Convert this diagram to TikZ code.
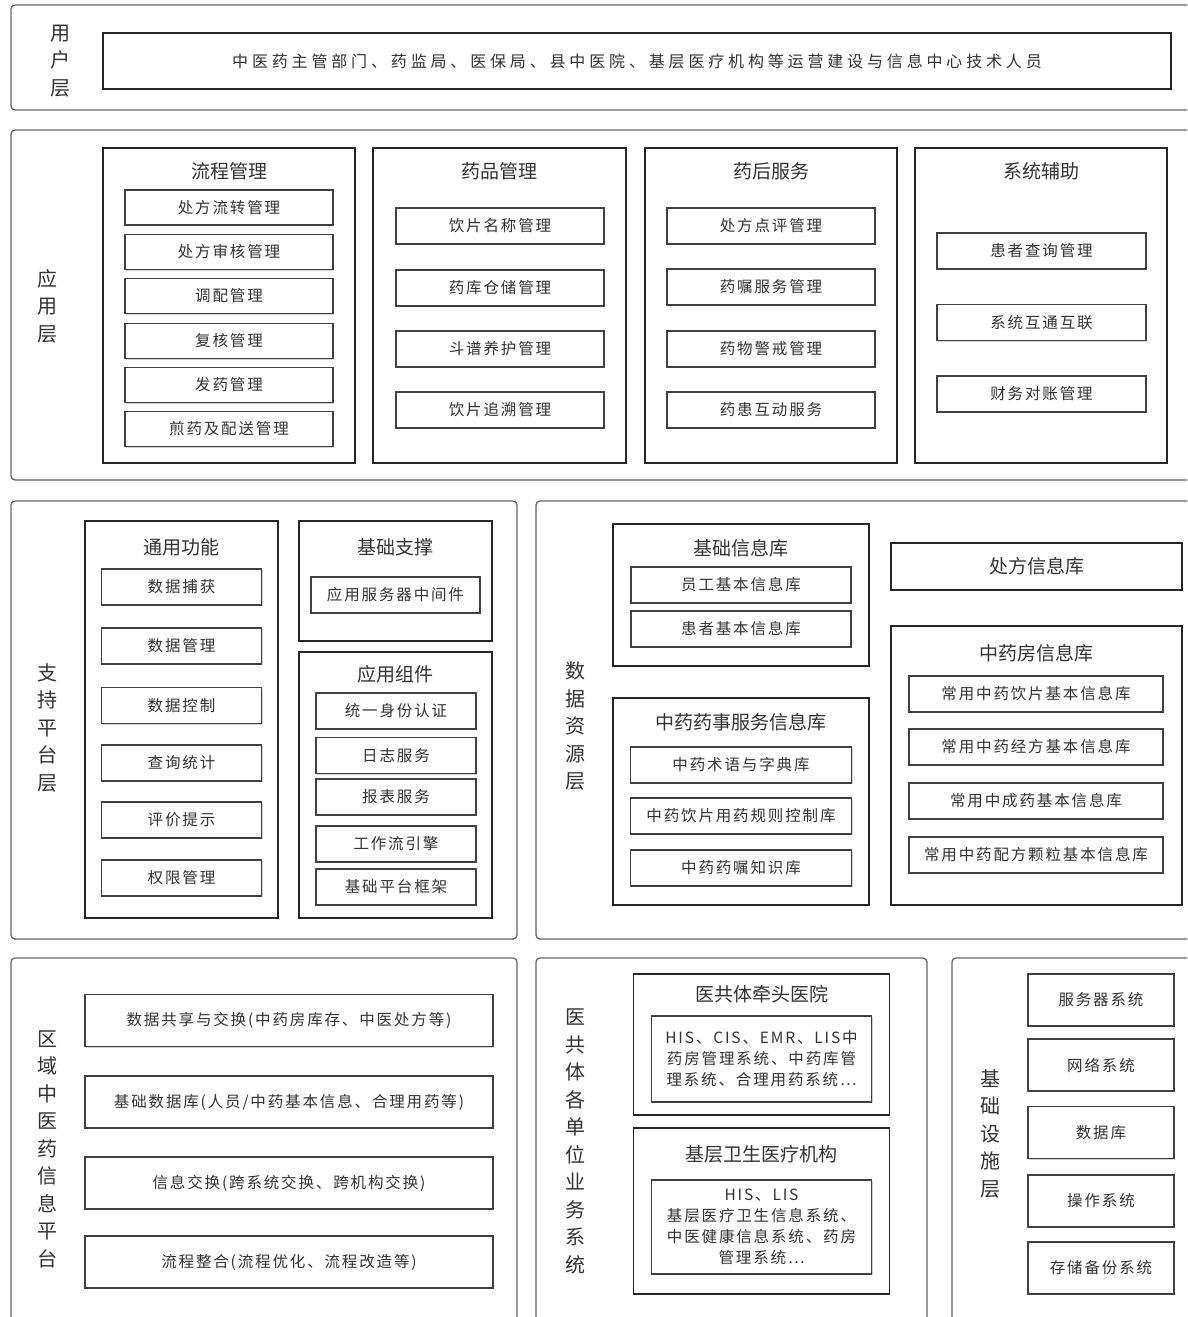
\documentclass[tikz,border=0pt]{standalone}
\usepackage{fontspec}
\setmainfont{Noto Sans CJK SC}
\newfontfamily\cjkspaced{Noto Sans CJK SC}[LetterSpace=12]
\newfontfamily\cjkwide{Noto Sans CJK SC}[LetterSpace=24]
\usetikzlibrary{shadows}

\begin{document}
\begin{tikzpicture}[x=1pt, y=-1pt,
    boxsize/.style 2 args={minimum width=#1, minimum height=#2},
    layerbox/.style={draw=black!60, line width=1.3pt, rounded corners=4pt, inner sep=0pt},
    groupbox/.style={draw=black!85, line width=1.8pt, inner sep=0pt, text=black!80, font=\fontsize{19}{23}\selectfont},
    itembox/.style={draw=black!75, line width=1.3pt, fill=white, inner sep=0pt, text=black!80,
      font=\cjkspaced\fontsize{15.5}{21}\selectfont,
      drop shadow={shadow xshift=1pt, shadow yshift=-1pt, fill=black!35}},
    wideitem/.style={itembox, line width=1.7pt},
    grouptitle/.style={text=black!80, font=\fontsize{19}{23}\selectfont},
    layerlabel/.style={align=center, inner sep=0pt, text=black!80, font=\fontsize{20}{27.5}\selectfont}]

  \fill[white] (0,0) rectangle (1187,1317);
  \clip (0,0) rectangle (1187,1317);

  \node[layerbox, boxsize={1184}{105}] at (603,57.5) (user) {};
  \node[layerlabel] at (60,61) (userlbl) {用\\户\\层};
  \node[groupbox, boxsize={1068}{56}, font=\cjkwide\fontsize{16}{20}\selectfont] at (637,61) (users)
    {中医药主管部门、药监局、医保局、县中医院、基层医疗机构等运营建设与信息中心技术人员};

  \node[layerbox, boxsize={1184}{350}] at (603,305) (app) {};
  \node[layerlabel] at (47,306) (applbl) {应\\用\\层};

  \node[groupbox, boxsize={252}{315}] at (229,305.5) (flow) {};
  \node[grouptitle] at (229,171) (flowttl) {流程管理};
  \node[itembox, boxsize={208}{35}] at (229,207.5) (flow1) {处方流转管理};
  \node[itembox, boxsize={208}{35}] at (229,252) (flow2) {处方审核管理};
  \node[itembox, boxsize={208}{35}] at (229,296) (flow3) {调配管理};
  \node[itembox, boxsize={208}{35}] at (229,341) (flow4) {复核管理};
  \node[itembox, boxsize={208}{35}] at (229,385) (flow5) {发药管理};
  \node[itembox, boxsize={208}{35}] at (229,429) (flow6) {煎药及配送管理};

  \node[groupbox, boxsize={253}{315}] at (499.5,305.5) (drug) {};
  \node[grouptitle] at (499.5,171) (drugttl) {药品管理};
  \node[itembox, boxsize={208}{36}] at (500,226) (drug1) {饮片名称管理};
  \node[itembox, boxsize={208}{36}] at (500,288) (drug2) {药库仓储管理};
  \node[itembox, boxsize={208}{36}] at (500,349) (drug3) {斗谱养护管理};
  \node[itembox, boxsize={208}{36}] at (500,410) (drug4) {饮片追溯管理};

  \node[groupbox, boxsize={252}{315}] at (771,305.5) (after) {};
  \node[grouptitle] at (771,171) (afterttl) {药后服务};
  \node[itembox, boxsize={208}{36}] at (771,226) (after1) {处方点评管理};
  \node[itembox, boxsize={208}{36}] at (771,287) (after2) {药嘱服务管理};
  \node[itembox, boxsize={208}{36}] at (771,349) (after3) {药物警戒管理};
  \node[itembox, boxsize={208}{36}] at (771,410) (after4) {药患互动服务};

  \node[groupbox, boxsize={252}{315}] at (1041,305.5) (aux) {};
  \node[grouptitle] at (1041,171) (auxttl) {系统辅助};
  \node[itembox, boxsize={209}{36}] at (1041.5,251) (aux1) {患者查询管理};
  \node[itembox, boxsize={209}{36}] at (1041.5,322.5) (aux2) {系统互通互联};
  \node[itembox, boxsize={209}{36}] at (1041.5,394) (aux3) {财务对账管理};

  \node[layerbox, boxsize={506}{438}] at (264,720) (support) {};
  \node[layerlabel] at (47,727.5) (supportlbl) {支\\持\\平\\台\\层};

  \node[groupbox, boxsize={193}{397}] at (181.5,719.5) (common) {};
  \node[grouptitle] at (181.5,547) (commonttl) {通用功能};
  \node[itembox, boxsize={160}{36}] at (181.5,587) (common1) {数据捕获};
  \node[itembox, boxsize={160}{36}] at (181.5,646) (common2) {数据管理};
  \node[itembox, boxsize={160}{36}] at (181.5,705.5) (common3) {数据控制};
  \node[itembox, boxsize={160}{36}] at (181.5,763) (common4) {查询统计};
  \node[itembox, boxsize={160}{36}] at (181.5,820) (common5) {评价提示};
  \node[itembox, boxsize={160}{36}] at (181.5,878) (common6) {权限管理};

  \node[groupbox, boxsize={193}{120}] at (395.5,581) (base) {};
  \node[grouptitle] at (395.5,547) (basettl) {基础支撑};
  \node[itembox, boxsize={169}{36}] at (395.5,595) (base1) {应用服务器中间件};

  \node[groupbox, boxsize={193}{266}] at (395.5,785) (comp) {};
  \node[grouptitle] at (395.5,674) (compttl) {应用组件};
  \node[itembox, boxsize={160}{36}] at (396,711) (comp1) {统一身份认证};
  \node[itembox, boxsize={160}{36}] at (396,755.5) (comp2) {日志服务};
  \node[itembox, boxsize={160}{36}] at (396,797) (comp3) {报表服务};
  \node[itembox, boxsize={160}{36}] at (396,844) (comp4) {工作流引擎};
  \node[itembox, boxsize={160}{36}] at (396,887) (comp5) {基础平台框架};

  \node[layerbox, boxsize={659}{438}] at (865.5,720) (data) {};
  \node[layerlabel] at (575,726) (datalbl) {数\\据\\资\\源\\层};

  \node[groupbox, boxsize={256}{142}] at (741,595) (basic) {};
  \node[grouptitle] at (741,548) (basicttl) {基础信息库};
  \node[itembox, boxsize={220}{36}] at (741,585) (basic1) {员工基本信息库};
  \node[itembox, boxsize={220}{36}] at (741,629) (basic2) {患者基本信息库};

  \node[groupbox, boxsize={256}{207}] at (741,801.5) (affair) {};
  \node[grouptitle] at (741,722) (affairttl) {中药药事服务信息库};
  \node[itembox, boxsize={221}{36}] at (741,765) (affair1) {中药术语与字典库};
  \node[itembox, boxsize={221}{36}] at (741,816) (affair2) {中药饮片用药规则控制库};
  \node[itembox, boxsize={221}{36}] at (741,868) (affair3) {中药药嘱知识库};

  \node[groupbox, boxsize={291}{47}] at (1036.5,566.5) (presc) {处方信息库};

  \node[groupbox, boxsize={291}{279}] at (1036.5,765.5) (pharm) {};
  \node[grouptitle] at (1036.5,653) (pharmttl) {中药房信息库};
  \node[itembox, boxsize={254}{36}] at (1036,694) (pharm1) {常用中药饮片基本信息库};
  \node[itembox, boxsize={254}{36}] at (1036,747) (pharm2) {常用中药经方基本信息库};
  \node[itembox, boxsize={254}{36}] at (1036,801) (pharm3) {常用中成药基本信息库};
  \node[itembox, boxsize={254}{36}] at (1036,855) (pharm4) {常用中药配方颗粒基本信息库};

  \node[layerbox, boxsize={506}{372}] at (264,1144) (region) {};
  \node[layerlabel] at (47,1149) (regionlbl) {区\\域\\中\\医\\药\\信\\息\\平\\台};
  \node[wideitem, boxsize={408}{52}] at (289,1020.5) (region1) {数据共享与交换(中药房库存、中医处方等)};
  \node[wideitem, boxsize={408}{52}] at (289,1102) (region2) {基础数据库(人员/中药基本信息、合理用药等)};
  \node[wideitem, boxsize={408}{52}] at (289,1183) (region3) {信息交换(跨系统交换、跨机构交换)};
  \node[wideitem, boxsize={408}{52}] at (289,1262) (region4) {流程整合(流程优化、流程改造等)};

  \node[layerbox, boxsize={391}{372}] at (731.5,1144) (unit) {};
  \node[layerlabel] at (575,1141.5) (unitlbl) {医\\共\\体\\各\\单\\位\\业\\务\\系\\统};

  \node[groupbox, boxsize={256}{141}] at (761.5,1044.5) (lead) {};
  \node[grouptitle] at (761.5,994) (leadttl) {医共体牵头医院};
  \node[itembox, boxsize={220}{86}, align=center] at (761.5,1059) (lead1)
    {HIS、CIS、EMR、LIS中\\药房管理系统、中药库管\\理系统、合理用药系统…};

  \node[groupbox, boxsize={256}{166}] at (761.5,1211) (grass) {};
  \node[grouptitle] at (761.5,1154) (grassttl) {基层卫生医疗机构};
  \node[itembox, boxsize={220}{94}, align=center] at (761.5,1227) (grass1)
    {HIS、LIS\\基层医疗卫生信息系统、\\中医健康信息系统、药房\\管理系统…};

  \node[layerbox, boxsize={243}{372}] at (1073.5,1144) (infra) {};
  \node[layerlabel] at (990,1133.5) (infralbl) {基\\础\\设\\施\\层};
  \node[wideitem, boxsize={146}{52}] at (1101,1000) (infra1) {服务器系统};
  \node[wideitem, boxsize={146}{52}] at (1101,1065) (infra2) {网络系统};
  \node[wideitem, boxsize={146}{52}] at (1101,1132.5) (infra3) {数据库};
  \node[wideitem, boxsize={146}{52}] at (1101,1201) (infra4) {操作系统};
  \node[wideitem, boxsize={146}{52}] at (1101,1268) (infra5) {存储备份系统};
\end{tikzpicture}
\end{document}
